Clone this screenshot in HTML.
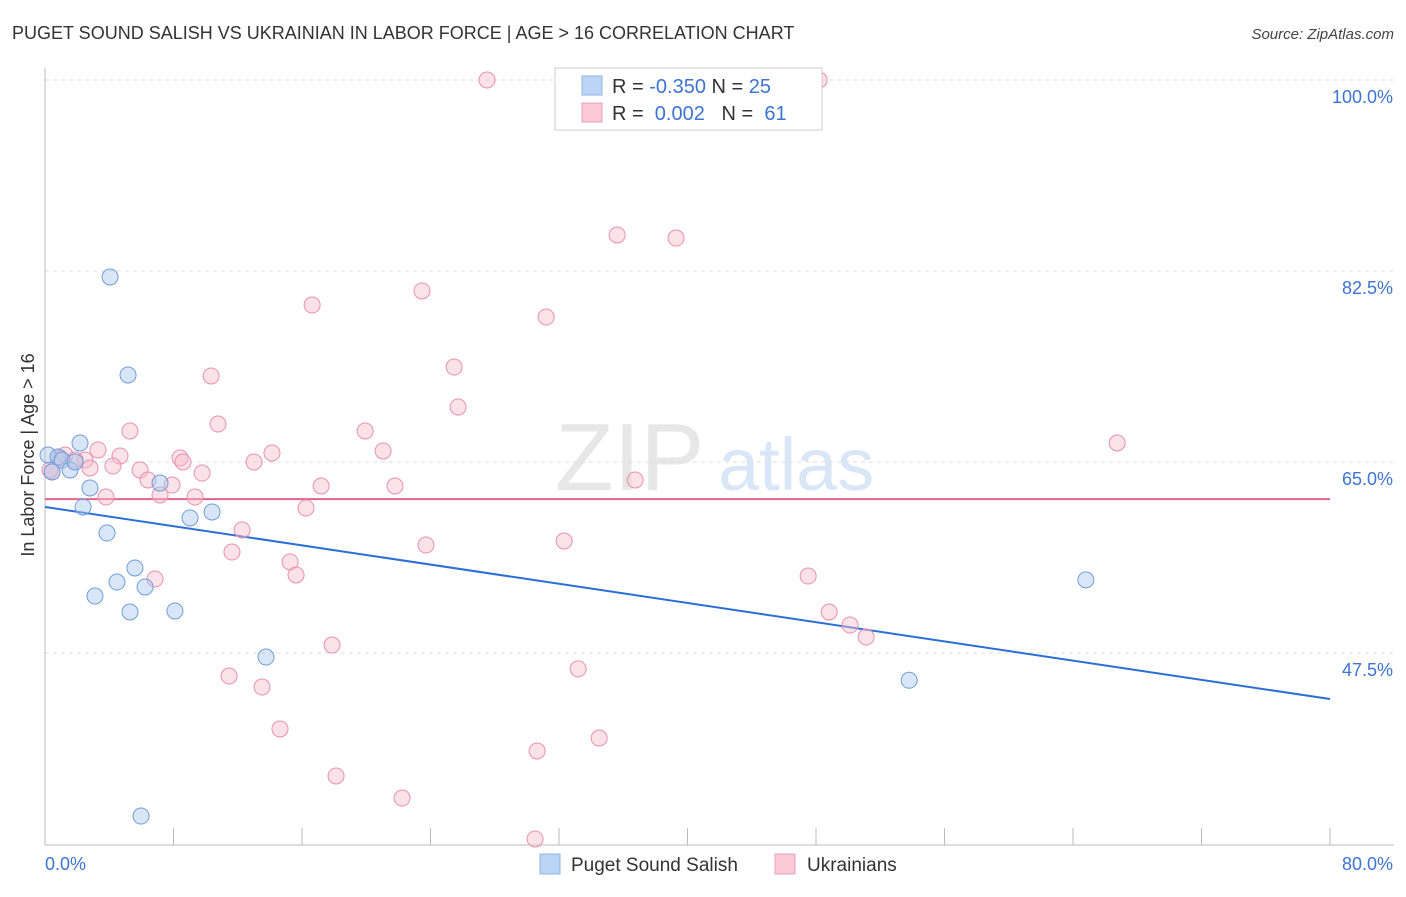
<!DOCTYPE html>
<html><head><meta charset="utf-8"><style>
body{margin:0;background:#fff;font-family:"Liberation Sans",sans-serif}
svg text{font-family:"Liberation Sans",sans-serif}
</style></head><body>
<svg id="chart" width="1406" height="892" xmlns="http://www.w3.org/2000/svg">
<text x="12" y="39" font-size="18" fill="#333">PUGET SOUND SALISH VS UKRAINIAN IN LABOR FORCE | AGE &gt; 16 CORRELATION CHART</text>
<text x="1394" y="39" font-size="15" fill="#444" text-anchor="end" font-style="italic">Source: ZipAtlas.com</text>
<g><text x="555" y="490" font-size="96" fill="#ddd" font-family="Liberation Serif" opacity="0.7">ZIP</text><text x="718" y="490" font-size="74" fill="#c9dcf2" opacity="0.7">atlas</text></g>
<g id="grid"></g><g id="axes"></g><g id="trends"></g><g id="points"></g>
<text transform="translate(34,455) rotate(-90)" font-size="18" fill="#333" text-anchor="middle">In Labor Force | Age &gt; 16</text>
<g>
<rect x="555" y="68" width="267" height="62" fill="#fff" stroke="#ccc"/>
<rect x="582" y="76" width="20" height="19" fill="#bcd4f6" stroke="#8db4e6"/>
<rect x="582" y="103" width="20" height="19" fill="#fbc9d7" stroke="#ee9fb8"/>
<text x="612" y="93" font-size="20" fill="#333">R = <tspan fill="#3d74d4">-0.350</tspan>   N = <tspan fill="#3d74d4">25</tspan></text>
<text x="612" y="120" font-size="20" fill="#333" xml:space="preserve">R =  <tspan fill="#3d74d4">0.002</tspan>   N =  <tspan fill="#3d74d4">61</tspan></text>
</g>
<g>
<rect x="540" y="854" width="20" height="20" fill="#bcd4f6" stroke="#8db4e6"/>
<text x="571" y="871" font-size="19" fill="#333">Puget Sound Salish</text>
<rect x="775" y="854" width="20" height="20" fill="#fbc9d7" stroke="#ee9fb8"/>
<text x="807" y="871" font-size="19" fill="#333">Ukrainians</text>
</g>
</svg>
<script>
const yTicks=[47.5,65.0,82.5,100.0];
const yTickLabels=["47.5%","65.0%","82.5%","100.0%"];
const xTickCount=10;
const xLabels=["0.0%","80.0%"];
const blueX=[4.05,5.17,2.18,0.19,0.81,1.06,1.56,1.87,2.80,2.37,3.86,7.16,9.03,10.40,5.60,4.48,6.23,3.11,5.29,8.09,13.76,53.8,64.8,5.98,0.44];
const blueY=[81.95,72.97,66.74,65.64,65.46,65.18,64.27,65.0,62.62,60.88,58.49,63.07,59.87,60.42,55.29,54.0,53.55,52.72,51.26,51.35,47.13,45.0,54.2,32.56,64.1];
const pinkX=[27.52,48.19,35.62,39.29,23.47,16.63,31.20,25.47,10.34,25.72,10.77,5.29,19.93,66.75,3.30,21.05,14.13,4.67,8.41,1.25,8.59,13.01,4.23,2.49,5.92,2.80,9.78,36.74,6.41,7.91,17.19,21.79,0.44,3.80,7.16,9.34,16.25,12.27,32.32,23.72,11.64,15.26,15.63,47.51,6.85,48.82,50.12,51.12,17.87,33.19,11.46,13.51,14.63,34.50,30.64,18.12,22.23,30.51,0.31,1.87,0.93];
const pinkY=[100,100,85.80,85.52,80.67,79.38,78.28,73.70,72.88,70.04,68.48,67.84,67.84,66.74,66.10,66.01,65.82,65.55,65.37,65.64,65.0,65.0,64.63,65.18,64.27,64.45,63.99,63.35,63.35,62.89,62.80,62.80,64.08,61.79,61.98,61.79,60.78,58.77,57.76,57.39,56.75,55.84,54.65,54.55,54.28,51.26,50.06,48.96,48.23,46.04,45.39,44.38,40.54,39.71,38.52,36.23,34.21,30.46,64.27,65.18,65.37];
const blueTrend=[60.88,43.28];
const pinkTrend=[61.6,61.6];
const X0=45,X1=1330,XMAX=80;
function sx(v){return X0+(X1-X0)*v/XMAX;}
function sy(v){return 80+(100-v)*10.914;}
const NS="http://www.w3.org/2000/svg";
function mk(t,a,p){const e=document.createElementNS(NS,t);for(const k in a)e.setAttribute(k,a[k]);p.appendChild(e);return e;}
const grid=document.getElementById('grid'),axes=document.getElementById('axes'),tr=document.getElementById('trends'),pts=document.getElementById('points');
yTicks.forEach((v,i)=>{
 const l=mk('line',{x1:X0,x2:1394,y1:sy(v),y2:sy(v),stroke:'#ddd','stroke-dasharray':'4,4'},grid);
 
 
 const t=mk('text',{x:1393,y:sy(v)+23,'font-size':18,fill:'#3d74d4','text-anchor':'end'},axes);
 t.textContent=yTickLabels[i];
 
 
});
const ya=mk('line',{x1:X0,x2:X0,y1:68,y2:845,stroke:'#bbb'},axes);


const xa=mk('line',{x1:X0,x2:1394,y1:845,y2:845,stroke:'#bbb'},axes);


for(let i=0;i<=xTickCount;i++){
 const x=sx(XMAX*i/xTickCount);
 const tk=mk('line',{x1:x,x2:x,y1:828,y2:845,stroke:'#bbb'},axes);
 
 
}
const xl0=mk('text',{x:45,y:870,'font-size':18,fill:'#3d74d4'},axes);xl0.textContent=xLabels[0];


const xl1=mk('text',{x:1393,y:870,'font-size':18,fill:'#3d74d4','text-anchor':'end'},axes);xl1.textContent=xLabels[1];


function drawPts(xs,ys,fill,stroke,name){
 xs.forEach((x,i)=>{
  const c=mk('circle',{cx:sx(x),cy:sy(ys[i]),r:8,fill:fill,'fill-opacity':0.45,stroke:stroke,'stroke-width':1},pts);
  
  
 });
}
drawPts(pinkX,pinkY,'#f6bccd','#e891ad','ukrainian-point');
drawPts(blueX,blueY,'#a8c8f0','#6f9ddb','puget-point');
const bt=mk('line',{x1:sx(0),y1:sy(blueTrend[0]),x2:sx(XMAX),y2:sy(blueTrend[1]),stroke:'#2b6fd6','stroke-width':2},tr);


const pt=mk('line',{x1:sx(0),y1:sy(pinkTrend[0]),x2:sx(XMAX),y2:sy(pinkTrend[1]),stroke:'#e0648e','stroke-width':2},tr);


</script>
</body></html>
